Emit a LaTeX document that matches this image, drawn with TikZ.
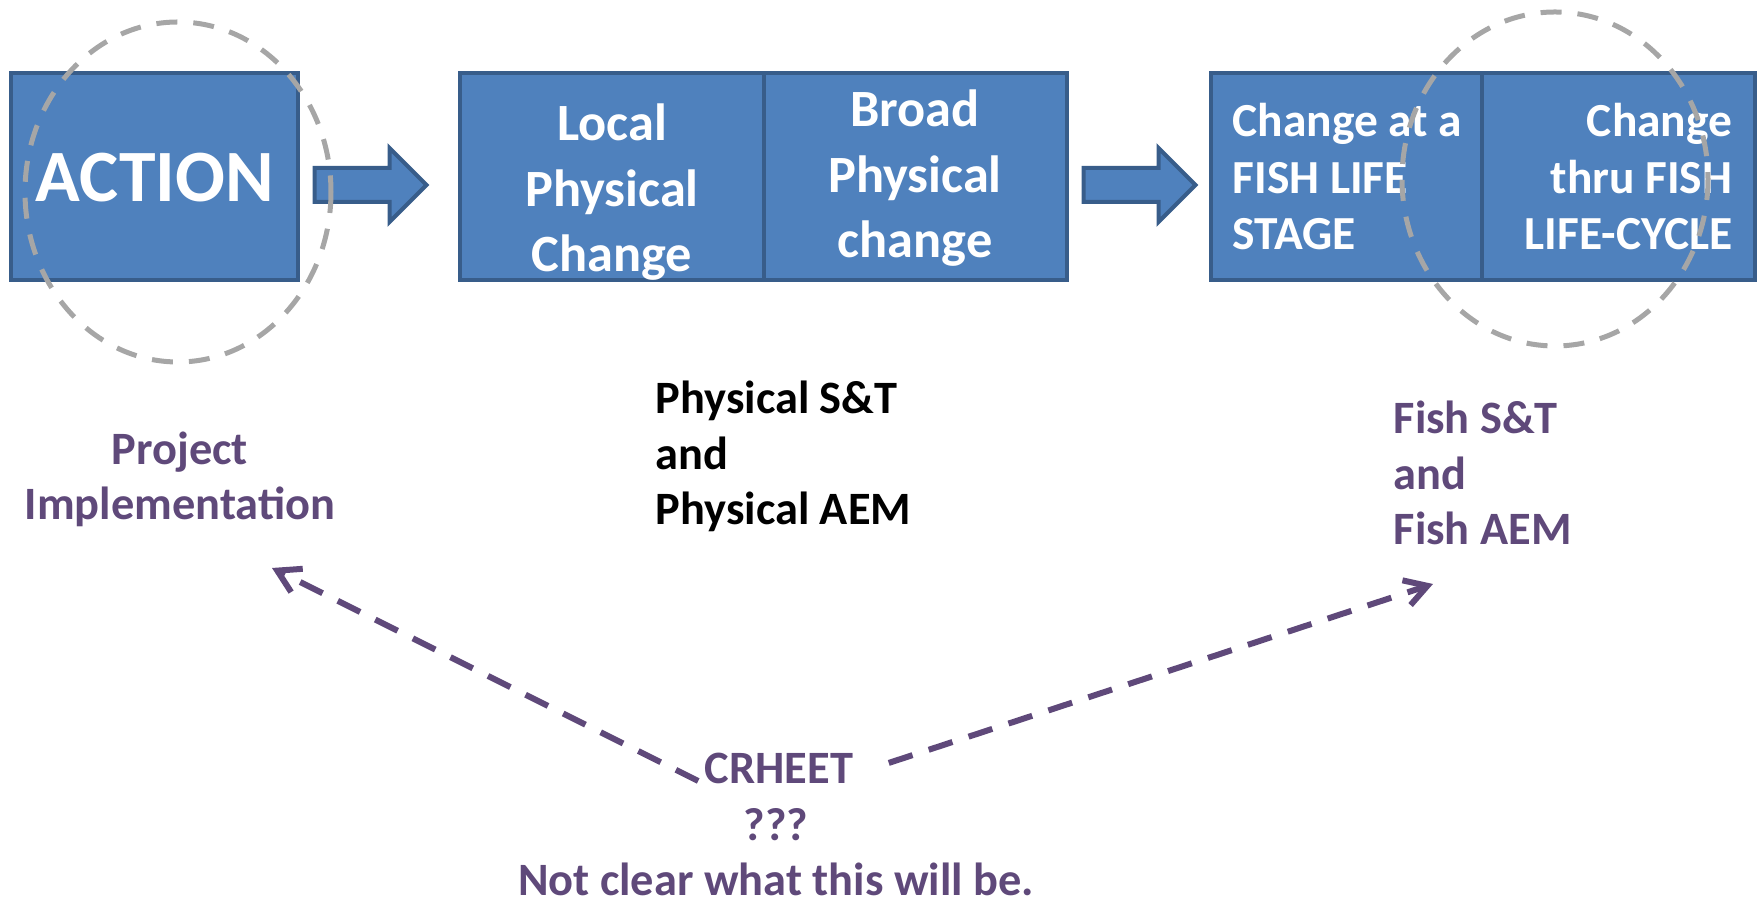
\documentclass[tikz,border=0pt]{standalone}
\usepackage{fontspec}
\setmainfont{Carlito}
\usetikzlibrary{arrows.meta,shapes.arrows}

\definecolor{boxblue}{HTML}{4F81BD}
\definecolor{boxedge}{HTML}{385D8A}
\definecolor{ringgray}{HTML}{A6A6A6}
\definecolor{notepurple}{HTML}{5F497A}

\tikzset{
    stagebox/.style={draw=boxedge, line width=0.4mm, fill=boxblue, inner sep=0pt, minimum height=20.7mm},
    blockarrow/.style={single arrow, draw=boxedge, line width=0.4mm, fill=boxblue, inner xsep=0pt,
        inner ysep=1.5mm, single arrow head extend=2mm, minimum height=11.2mm},
    boxtext/.style={text=white, inner sep=0pt, anchor=base, align=center,
        font=\bfseries\fontsize{14.9pt}{18.7pt}\selectfont},
    fishtext/.style={text=white, inner sep=0pt, anchor=base,
        font=\bfseries\fontsize{13.5pt}{16.2pt}\selectfont},
    notetext/.style={text=notepurple, inner sep=0pt, anchor=base,
        font=\bfseries\fontsize{13.2pt}{15.9pt}\selectfont},
    ring/.style={draw=ringgray, line width=0.5mm, dash pattern=on 2.1mm off 1.6mm},
    notearrow/.style={draw=notepurple, line width=0.6mm, dash pattern=on 2.5mm off 1.7mm,
        -{Straight Barb[length=2.2mm, width=2.6mm]}},
}

\begin{document}
\begin{tikzpicture}[x=0.1mm, y=-0.1mm]
    \useasboundingbox (0,0) rectangle (1761,904);

    % boxes
    \node[stagebox, minimum width=28.7mm] (action) at (154.5,176.5) {};
    \node[stagebox, minimum width=30.4mm] (local) at (612,176.5) {};
    \node[stagebox, minimum width=30.3mm] (broad) at (915.5,176.5) {};
    \node[stagebox, minimum width=27.1mm] (stage) at (1346.5,176.5) {};
    \node[stagebox, minimum width=27.3mm] (cycle) at (1618.5,176.5) {};

    % block arrows
    \node[blockarrow] (arrA) at (362,185) {};
    \node[blockarrow] (arrB) at (1131,185) {};

    % box texts (base = last line)
    \node[boxtext, font=\bfseries\fontsize{21pt}{25pt}\selectfont] (actiontxt) at (155,202) {ACTION};
    \node[boxtext] (localtxt) at (612,272) {Local\\Physical\\Change};
    \node[boxtext] (broadtxt) at (915,258) {Broad\\Physical\\change};
    \node[fishtext, anchor=base west, align=left] (stagetxt) at (1232,250) {Change at a\\FISH LIFE\\STAGE};
    \node[fishtext, anchor=base east, align=right] (cycletxt) at (1733,250) {Change\\thru FISH\\LIFE-CYCLE};

    % notes below
    \node[notetext, align=center] (project) at (180,520) {Project\\Implementation};
    \node[notetext, text=black, anchor=base west, align=left] (physical) at (655,525) {Physical S\&T\\and\\Physical AEM};
    \node[notetext, anchor=base west, align=left] (fish) at (1393,545) {Fish S\&T\\and\\Fish AEM};
    \node[notetext] (crheet) at (779,784) {CRHEET};
    \node[notetext, align=center] (crnote) at (776,896) {???\\Not clear what this will be.};

    % dashed arrows
    \coordinate (ptip) at (272,568);
    \coordinate (ftip) at (1433,584);
    \draw[notearrow] ([shift={(-0.6mm,0.3mm)}]crheet.base west) -- (ptip);
    \draw[notearrow] ([shift={(3.5mm,0.6mm)}]crheet.east) -- (ftip);

    % dashed rings
    \draw[ring] (178,192) ellipse [x radius=153, y radius=170];
    \draw[ring] (1555,179) ellipse [x radius=153, y radius=167];
\end{tikzpicture}
\end{document}
